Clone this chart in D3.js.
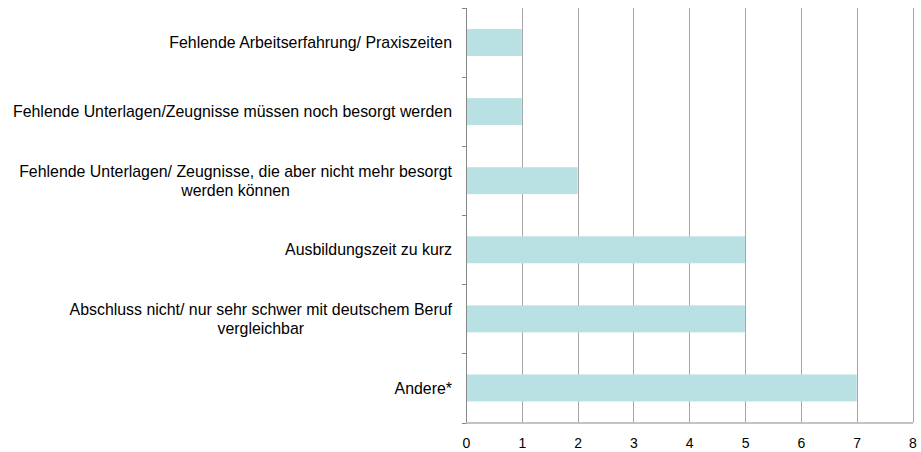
<!DOCTYPE html>
<html>
<head>
<meta charset="utf-8">
<script src="https://cdn.jsdelivr.net/npm/d3@7"></script>
<style>
  body { margin: 0; background: #fff; }
  text { font-family: "Liberation Sans", Arial, sans-serif; fill: #000; }
</style>
</head>
<body>
<div id="chart"></div>
<script>
// categories, top to bottom (lines split where the label wraps)
const categories = [
  ["Fehlende Arbeitserfahrung/ Praxiszeiten"],
  ["Fehlende Unterlagen/Zeugnisse müssen noch besorgt werden"],
  ["Fehlende Unterlagen/ Zeugnisse, die aber nicht mehr besorgt", "werden können"],
  ["Ausbildungszeit zu kurz"],
  ["Abschluss nicht/ nur sehr schwer mit deutschem Beruf", "vergleichbar"],
  ["Andere*"]
];
const values = [1, 1, 2, 5, 5, 7];
const xTicks = [0, 1, 2, 3, 4, 5, 6, 7, 8];

const margin = { top: 8, right: 8.5, bottom: 29.5, left: 466 },
  width = 921 - margin.left - margin.right,
  height = 452 - margin.top - margin.bottom;

const svg = d3
  .select("#chart")
  .append("svg")
  .attr("width", 921)
  .attr("height", 452)
  .append("g")
  .attr("transform", "translate(" + margin.left + "," + margin.top + ")");

const x = d3.scaleLinear().domain([0, 8]).range([0, width]);
const y = d3
  .scaleBand()
  .domain(d3.range(categories.length))
  .range([0, height])
  .paddingInner(0.61)
  .paddingOuter(0.305);

// vertical gridlines
svg
  .selectAll(".grid")
  .data(xTicks.slice(1))
  .enter()
  .append("line")
  .attr("x1", d => Math.round(x(d)) + 0.5)
  .attr("x2", d => Math.round(x(d)) + 0.5)
  .attr("y1", 0)
  .attr("y2", height)
  .style("stroke", "#a6a6a6")
  .style("stroke-width", 1);

// bars
svg
  .selectAll(".bar")
  .data(values)
  .enter()
  .append("rect")
  .attr("x", 0)
  .attr("y", (d, i) => y(i))
  .attr("width", d => x(d))
  .attr("height", y.bandwidth())
  .style("fill", "#b9e0e2");

// x axis
const xAxis = svg
  .append("g")
  .attr("transform", "translate(0," + height + ")")
  .call(d3.axisBottom(x).tickValues(xTicks).tickSize(0).tickPadding(16));
xAxis.select(".domain").style("stroke", "#878787");
xAxis.selectAll("text").style("font-size", "14px");

// y axis: boundary ticks between categories
const step = height / categories.length;
const yAxis = svg.append("g");
yAxis
  .append("line")
  .attr("x1", 0.5)
  .attr("x2", 0.5)
  .attr("y1", 0)
  .attr("y2", height)
  .style("stroke", "#878787");
yAxis
  .selectAll(".ytick")
  .data(d3.range(categories.length + 1))
  .enter()
  .append("line")
  .attr("x1", -4)
  .attr("x2", 0.5)
  .attr("y1", d => Math.round(d * step) + 0.5)
  .attr("y2", d => Math.round(d * step) + 0.5)
  .style("stroke", "#878787");

// category labels
const lineH = 19;
const labels = svg
  .selectAll(".label")
  .data(categories)
  .enter()
  .append("text")
  .attr("class", "label")
  .style("font-size", "15.9px")
  .attr("transform", (d, i) => "translate(-14," + (y(i) + y.bandwidth() / 2) + ")");

labels.each(function(lines) {
  const t = d3.select(this);
  lines.forEach((l, j) => {
    t.append("tspan")
      .attr("y", (j - (lines.length - 1) / 2) * lineH)
      .attr("dy", "0.35em")
      .text(l);
  });
  // right-align the block, center lines inside it
  const spans = t.selectAll("tspan").nodes();
  const w = d3.max(spans, s => s.getComputedTextLength());
  spans.forEach(s => {
    d3.select(s).attr("x", -w / 2).attr("text-anchor", "middle");
  });
});
</script>
</body>
</html>
